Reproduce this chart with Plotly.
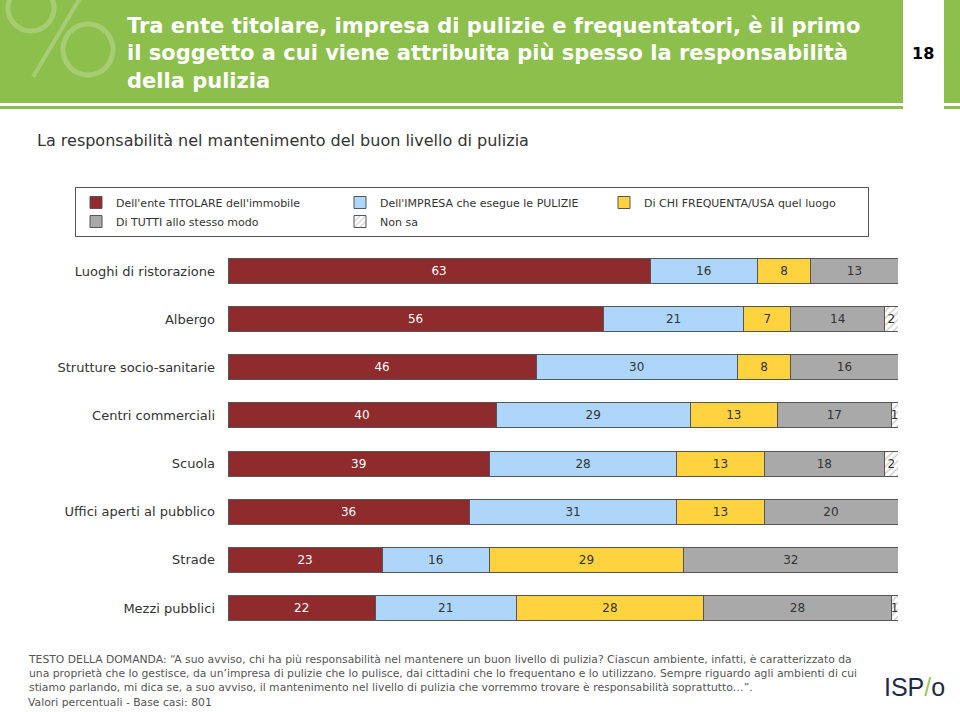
import plotly.graph_objects as go

# ---------------- data ----------------
categories = [
    "Luoghi di ristorazione",
    "Albergo",
    "Strutture socio-sanitarie",
    "Centri commerciali",
    "Scuola",
    "Uffici aperti al pubblico",
    "Strade",
    "Mezzi pubblici",
]
titolare = [63, 56, 46, 40, 39, 36, 23, 22]
impresa = [16, 21, 30, 29, 28, 31, 16, 21]
frequenta = [8, 7, 8, 13, 13, 13, 29, 28]
tutti = [13, 14, 16, 17, 18, 20, 32, 28]
non_sa = [0, 2, 0, 1, 2, 0, 0, 1]

series_names = [
    "Dell'ente TITOLARE dell'immobile",
    "Dell'IMPRESA che esegue le PULIZIE",
    "Di CHI FREQUENTA/USA quel luogo",
    "Di TUTTI allo stesso modo",
    "Non sa",
]

title_text = ("Tra ente titolare, impresa di pulizie e frequentatori, è il primo<br>"
              "il soggetto a cui viene attribuita più spesso la responsabilità<br>"
              "della pulizia")
subtitle_text = "La responsabilità nel mantenimento del buon livello di pulizia"
page_number = "18"
footer_text = ("TESTO DELLA DOMANDA: \u201cA suo avviso, chi ha più responsabilità nel mantenere un buon livello di pulizia? Ciascun ambiente, infatti, è caratterizzato da<br>"
               "una proprietà che lo gestisce, da un\u2019impresa di pulizie che lo pulisce, dai cittadini che lo frequentano e lo utilizzano. Sempre riguardo agli ambienti di cui<br>"
               "stiamo parlando, mi dica se, a suo avviso, il mantenimento nel livello di pulizia che vorremmo trovare è responsabilità soprattutto\u2026\u201d.")
base_text = "Valori percentuali - Base casi: 801"

# ---------------- layout helpers ----------------
W, H = 960, 712
L, R, T, B = 228, 62, 247, 80
PW, PH = W - L - R, H - T - B


def px(x):
    return (x - L) / PW


def py(y):
    return (H - B - y) / PH


GREEN = "#8DBF4C"
fills = ["#8F2B2C", "#AED6FB", "#FFD33F", "#A9A9A9", "#FFFFFF"]
text_colors = ["#FFFFFF", "#333333", "#333333", "#333333", "#333333"]
values = [titolare, impresa, frequenta, tutti, non_sa]

fig = go.Figure()
for name, vals, col, tcol in zip(series_names, values, fills, text_colors):
    marker = dict(color=col, line=dict(color="#555555", width=1))
    if name == "Non sa":
        marker["pattern"] = dict(shape="/", fgcolor="#a0a0a0", bgcolor="#FFFFFF", size=5, solidity=0.3)
    fig.add_trace(go.Bar(
        y=categories, x=vals, name=name, orientation="h",
        marker=marker,
        text=[str(v) if v else "" for v in vals],
        textposition="inside", insidetextanchor="middle",
        textfont=dict(color=tcol, size=12, family="DejaVu Sans"),
        width=0.52,
        cliponaxis=False,
        hoverinfo="skip",
    ))

shapes = [
    # header band
    dict(type="rect", xref="paper", yref="paper", x0=px(-2), x1=px(903), y0=py(103), y1=py(-2),
         fillcolor=GREEN, line=dict(width=0), layer="below"),
    dict(type="rect", xref="paper", yref="paper", x0=px(944), x1=px(962), y0=py(103), y1=py(-2),
         fillcolor=GREEN, line=dict(width=0), layer="below"),
    dict(type="rect", xref="paper", yref="paper", x0=px(-2), x1=px(903), y0=py(109), y1=py(106),
         fillcolor=GREEN, line=dict(width=0), layer="below"),
    dict(type="rect", xref="paper", yref="paper", x0=px(944), x1=px(962), y0=py(109), y1=py(106),
         fillcolor=GREEN, line=dict(width=0), layer="below"),
    # percent watermark
    dict(type="circle", xref="paper", yref="paper", x0=px(63), x1=px(113), y0=py(75), y1=py(24),
         line=dict(color="rgba(255,255,255,0.22)", width=5)),
    dict(type="circle", xref="paper", yref="paper", x0=px(8), x1=px(54), y0=py(31), y1=py(-15),
         line=dict(color="rgba(255,255,255,0.22)", width=5)),
    dict(type="line", xref="paper", yref="paper", x0=px(80), x1=px(33), y0=py(-2), y1=py(77),
         line=dict(color="rgba(255,255,255,0.22)", width=4)),
]

annotations = [
    dict(xref="paper", yref="paper", x=px(125), y=py(54), xanchor="left", yanchor="middle",
         text=title_text, showarrow=False, align="left",
         font=dict(family="DejaVu Sans", size=21, color="#FFFFFF", weight="bold")),
    dict(xref="paper", yref="paper", x=px(923), y=py(53), xanchor="center", yanchor="middle",
         text=page_number, showarrow=False,
         font=dict(family="DejaVu Sans", size=16, color="#000000", weight="bold")),
    dict(xref="paper", yref="paper", x=px(35), y=py(141), xanchor="left", yanchor="middle",
         text=subtitle_text, showarrow=False,
         font=dict(family="DejaVu Sans", size=16, color="#333333")),
    dict(xref="paper", yref="paper", x=px(26), y=py(673), xanchor="left", yanchor="middle",
         text=footer_text, showarrow=False, align="left",
         font=dict(family="DejaVu Sans", size=10.8, color="#555555")),
    dict(xref="paper", yref="paper", x=px(26), y=py(702), xanchor="left", yanchor="middle",
         text=base_text, showarrow=False, align="left",
         font=dict(family="DejaVu Sans", size=10.8, color="#555555")),
    dict(xref="paper", yref="paper", x=px(914), y=py(687), xanchor="center", yanchor="middle",
         text=("<span style='color:#1E2B48'>ISP</span><span style='color:#9CC45A'>/</span>"
               "<span style='color:#1E2B48'>o</span>"),
         showarrow=False,
         font=dict(family="Liberation Sans", size=25, color="#1E2B48")),
]

fig.update_layout(
    width=W, height=H,
    margin=dict(l=L, r=R, t=T, b=B, autoexpand=False),
    paper_bgcolor="#FFFFFF", plot_bgcolor="#FFFFFF",
    barmode="stack",
    bargap=0.48,
    uniformtext=dict(minsize=12, mode="show"),
    xaxis=dict(range=[0, 100], visible=False, fixedrange=True),
    yaxis=dict(
        range=[7.5, -0.5], showgrid=False, zeroline=False, showline=False,
        ticks="", ticklabelstandoff=12,
        tickfont=dict(family="DejaVu Sans", size=13, color="#333333"),
        fixedrange=True,
    ),
    showlegend=True,
    legend=dict(
        orientation="h", xref="paper", yref="paper",
        x=px(75), y=py(187), xanchor="left", yanchor="top",
        bordercolor="#555555", borderwidth=1, bgcolor="#FFFFFF",
        font=dict(family="DejaVu Sans", size=11, color="#333333"),
        entrywidth=219, entrywidthmode="pixels",
        itemwidth=30, traceorder="normal", itemclick=False, itemdoubleclick=False,
    ),
    shapes=shapes,
    annotations=annotations,
)

fig.write_html("out.html", config={"displayModeBar": False},
               post_script="document.body.style.margin='0';document.body.style.padding='0';")
